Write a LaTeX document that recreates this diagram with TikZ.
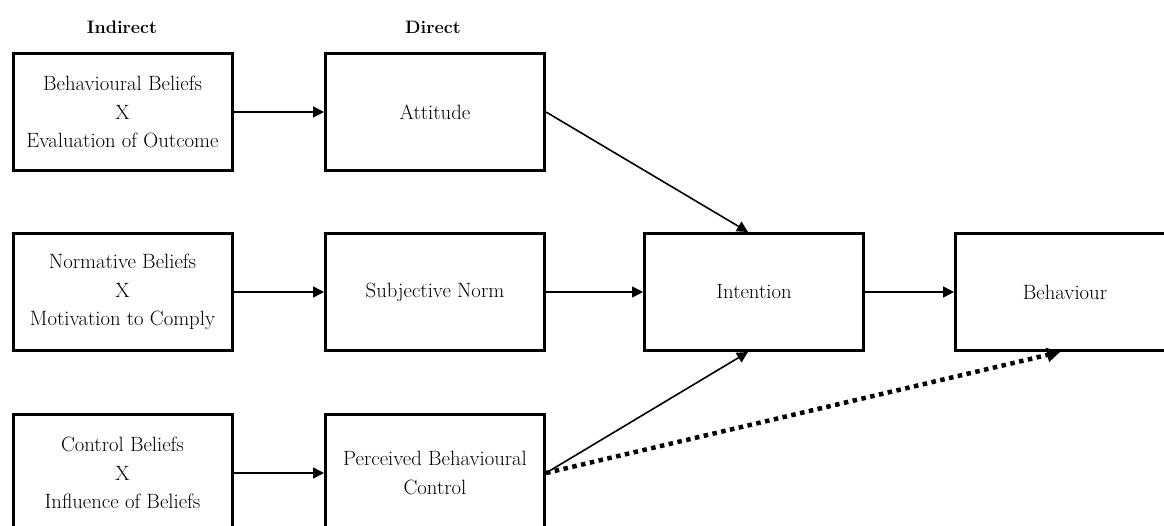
\documentclass[tikz,border=0pt]{standalone}
\usetikzlibrary{arrows.meta}
\begin{document}
\begin{tikzpicture}[x=1pt,y=-1pt,
  box/.style={draw, line width=3pt, minimum width=219pt, minimum height=117pt,
    inner sep=0pt, align=center, font=\fontsize{20.7}{28.5}\selectfont},
  head/.style={font=\fontsize{18}{22}\selectfont\bfseries},
  arr/.style={line width=1.6pt, -{Triangle[length=11pt,width=11pt]}},
  dotarr/.style={line width=4.5pt, dash pattern=on 4.5pt off 4.5pt, -{Triangle[length=13pt,width=14pt]}}]
\useasboundingbox (0,0) rectangle (1164,526);
\clip (0,0) rectangle (1164,526);
\node[head] (hind) at (122,27) {Indirect};
\node[head] (hdir) at (433,27) {Direct};
\node[box] (bb) at (122.5,112) {Behavioural Beliefs\\X\\Evaluation of Outcome};
\node[box] (att) at (435,112) {Attitude};
\node[box] (nb) at (122.5,292) {Normative Beliefs\\X\\Motivation to Comply};
\node[box] (sn) at (435,292) {Subjective Norm};
\node[box] (cb) at (122.5,473) {Control Beliefs\\X\\Influence of Beliefs};
\node[box] (pbc) at (435,473) {Perceived Behavioural\\Control};
\node[box] (int) at (754,292) {Intention};
\node[box] (beh) at (1065,292) {Behaviour};
\draw[arr] (bb) -- (att);
\draw[arr] (nb) -- (sn);
\draw[arr] (cb) -- (pbc);
\draw[arr] (sn) -- (int);
\draw[arr] (int) -- (beh);
\draw[arr] (att.east) -- ([xshift=-6pt]int.north);
\draw[arr] (pbc.east) -- ([xshift=-6pt]int.south);
\draw[dotarr] (pbc.east) -- ([xshift=-5pt]beh.south);
\end{tikzpicture}
\end{document}
